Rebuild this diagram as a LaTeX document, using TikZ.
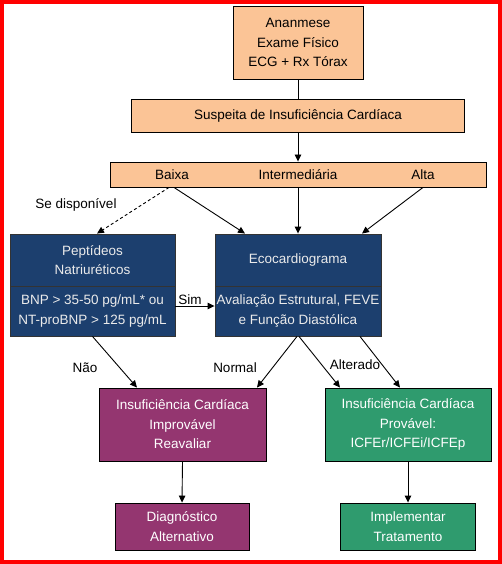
\documentclass[tikz,border=0pt]{standalone}
\usepackage{fontspec}
\setmainfont{Liberation Sans}
\usetikzlibrary{arrows.meta,calc}
\definecolor{orfill}{HTML}{FBC496}
\definecolor{bluefill}{HTML}{1C3F6E}
\definecolor{purfill}{HTML}{943670}
\definecolor{grnfill}{HTML}{2F9B6E}
\definecolor{frame}{HTML}{FF0000}
\tikzset{
  box/.style={draw=black, line width=0.9pt, align=center, inner sep=0pt,
    font=\fontsize{13.5}{19.5}\selectfont},
  obox/.style={box, fill=orfill, text=black},
  bbox/.style={box, draw=black!80, fill=bluefill, text=white!92!black},
  pbox/.style={box, fill=purfill, text=white},
  gbox/.style={box, fill=grnfill, text=white},
  conn/.style={line width=0.9pt, draw=black},
  arr/.style={conn, -{Triangle[length=7pt,width=6.5pt]}},
  lbl/.style={font=\fontsize{13.5}{16}\selectfont, inner sep=0pt}
}
\begin{document}
\begin{tikzpicture}[x=1pt,y=-1pt]
\useasboundingbox (0,0) rectangle (502,564);
\fill[white] (0,0) rectangle (502,564);
\draw[frame, line width=4pt] (2,2) rectangle (500,562);

\node[obox, minimum width=130pt, minimum height=73pt] (ana) at (298,42.5) {Ananmese\\Exame Físico\\ECG + Rx Tórax};
\node[obox, minimum width=333pt, minimum height=33pt] (sus) at (298,115.5) {Suspeita de Insuficiência Cardíaca};
\node[obox, minimum width=376pt, minimum height=25pt] (lev) at (298,174.5) {};
\node[lbl] (baixa) at (172,175) {Baixa};
\node[lbl] (inter) at (298,175) {Intermediária};
\node[lbl] (alta) at (423,175) {Alta};

\node[bbox, minimum width=165pt, minimum height=52pt] (pepT) at (92.5,260) {Peptídeos\\Natriuréticos};
\node[bbox, minimum width=165pt, minimum height=50pt] (pepB) at (92.5,311) {BNP > 35-50 pg/mL* ou\\NT-proBNP > 125 pg/mL};
\node[bbox, minimum width=166pt, minimum height=52pt] (ecoT) at (298,260) {Ecocardiograma};
\node[bbox, minimum width=166pt, minimum height=50pt] (ecoB) at (298,311) {Avaliação Estrutural, FEVE\\e Função Diastólica};

\node[pbox, minimum width=167pt, minimum height=73pt] (imp) at (182.5,424.5) {Insuficiência Cardíaca\\Improvável\\Reavaliar};
\node[gbox, minimum width=166pt, minimum height=73pt] (prov) at (408,424.5) {Insuficiência Cardíaca\\Provável:\\ICFEr/ICFEi/ICFEp};
\node[pbox, minimum width=134pt, minimum height=47pt] (diag) at (182,526.5) {Diagnóstico\\Alternativo};
\node[gbox, minimum width=135pt, minimum height=47pt] (impl) at (408,526.5) {Implementar\\Tratamento};

\draw[conn] (ana.south) -- (sus.north);
\draw[arr] (sus.south) -- (lev.north);
\draw[arr, dashed, dash pattern=on 3pt off 2.5pt] ([xshift=-129pt]lev.south) -- ([xshift=4.5pt]pepT.north);
\draw[arr] ([xshift=-124pt]lev.south) -- ([xshift=-53pt]ecoT.north);
\draw[arr] (lev.south) -- (ecoT.north);
\draw[arr] ([xshift=125pt]lev.south) -- ([xshift=64pt]ecoT.north);
\draw[arr] ([yshift=5pt]pepB.east) -- ([yshift=5pt]ecoB.west);
\draw[arr] (pepB.south) -- ([xshift=-45.5pt]imp.north);
\draw[arr] ([xshift=-1pt]ecoB.south) -- ([xshift=74.5pt]imp.north);
\draw[arr] ([xshift=1pt]ecoB.south) -- ([xshift=-68pt]prov.north);
\draw[arr] ([xshift=62pt]ecoB.south) -- ([xshift=-8pt]prov.north);
\draw[arr] (imp.south) -- (diag.north);
\draw[arr] (prov.south) -- (impl.north);

\node[lbl] (sedisp) at (76,205) {Se disponível};
\node[lbl] (sim) at (190,300) {Sim};
\node[lbl] (nao) at (85,368) {Não};
\node[lbl] (normal) at (235,368) {Normal};
\node[lbl] (alter) at (355,365) {Alterado};
\end{tikzpicture}
\end{document}
